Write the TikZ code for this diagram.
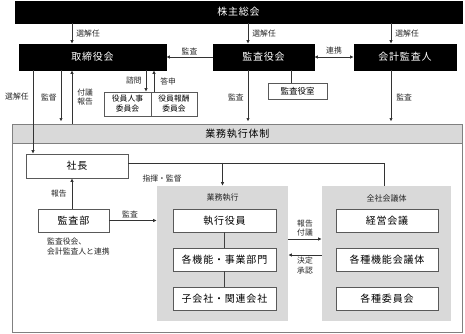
\documentclass[tikz,border=0pt]{standalone}
\usepackage{fontspec}
\setmainfont{Noto Sans CJK JP}
\newfontfamily\jpsp{Noto Sans CJK JP}[LetterSpace=8.0]
\usetikzlibrary{arrows.meta,calc,positioning}

\begin{document}
\begin{tikzpicture}[
  x=1pt, y=-1pt,
  font=\fontsize{10}{12}\selectfont,
  line join=miter,
  >={Latex[length=3.5pt,width=3.5pt]},
  box/.style={
    rectangle, inner sep=0pt,
    align=center, line width=0.8pt
  },
  blackst/.style={box, draw=black, fill=black, text=white, font=\jpsp\fontsize{10}{12}\selectfont},
  whitest/.style={box, draw=black!65, fill=white, font=\jpsp\fontsize{10}{12}\selectfont},
  cmtst/.style={box, draw=black!65, fill=white, font=\fontsize{7.8}{10}\selectfont},
  grpst/.style={box, draw=none, fill=black!15},
  trans/.style={->, line width=0.8pt, draw=black!80},
  link/.style={line width=0.8pt, draw=black!80},
  edgelbl/.style={font=\fontsize{7.8}{9.5}\selectfont, inner sep=1pt, text=black!85, align=center}
]
\useasboundingbox (0,0) rectangle (465,333);

% =========================================================================
% Horná časť: orgány spoločnosti
% =========================================================================
\node[blackst, minimum width=447, minimum height=22] (gm) at (238.5,12) {株主総会};

\node[blackst, minimum width=147, minimum height=26] (board)   at (92.5,57) {取締役会};
\node[blackst, minimum width=101, minimum height=26] (kansa)   at (263.5,57) {監査役会};
\node[blackst, minimum width=102, minimum height=26] (auditor) at (405,57) {会計監査人};

\node[whitest, minimum width=59, minimum height=16, font=\fontsize{8.5}{10}\selectfont] (kansashitsu) at (297.5,91) {監査役室};

% výbory
\node[cmtst, minimum width=47, minimum height=24] (jinji) at (127.5,104) {役員人事\\委員会};
\node[cmtst, minimum width=46, minimum height=24] (hoshu) at (174,104)   {役員報酬\\委員会};

% =========================================================================
% Rámec: 業務執行体制
% =========================================================================
\node[box, draw=black!50, fill=white, minimum width=450, minimum height=208, anchor=north west] (frame) at (12,124) {};
\node[box, draw=black!50, fill=black!15, minimum width=450, minimum height=19, anchor=north west,
      font=\jpsp\fontsize{10}{12}\selectfont] (head) at (12,124) {業務執行体制};

\node[whitest, minimum width=102, minimum height=24] (president) at (77,166)   {社長};
\node[whitest, minimum width=71,  minimum height=23] (naibu)     at (73.5,220.5) {監査部};
\node[edgelbl, anchor=north west, align=left, inner sep=0pt] (naibunote) at (47,238) {監査役会、\\会計監査人と連携};

% skupina: 業務執行
\node[grpst, minimum width=131, minimum height=135] (exec) at (222.5,253.5) {};
\node[edgelbl, font=\fontsize{8}{10}\selectfont] (exectitle) at (222.5,198) {業務執行};
\node[whitest, minimum width=103, minimum height=23] (exec1) at (224.5,220.5) {執行役員};
\node[whitest, minimum width=103, minimum height=23] (exec2) at (224.5,259.5) {各機能・事業部門};
\node[whitest, minimum width=103, minimum height=23] (exec3) at (224.5,298.5) {子会社・関連会社};

% skupina: 全社会議体
\node[grpst, minimum width=129, minimum height=135] (council) at (386.5,253.5) {};
\node[edgelbl, font=\fontsize{8}{10}\selectfont] (counciltitle) at (386.5,198) {全社会議体};
\node[whitest, minimum width=102, minimum height=23] (council1) at (387,220.5) {経営会議};
\node[whitest, minimum width=102, minimum height=23] (council2) at (387,259.5) {各種機能会議体};
\node[whitest, minimum width=102, minimum height=23] (council3) at (387,298.5) {各種委員会};

% =========================================================================
% Prepojenia
% =========================================================================
% 株主総会 -> orgány
\draw[trans] (gm.south -| 72,0)  -- node[edgelbl, right=3pt] {選解任} (board.north -| 72,0);
\draw[trans] (gm.south -| 248,0) -- node[edgelbl, right=3pt] {選解任} (kansa.north -| 248,0);
\draw[trans] (gm.south -| 391,0) -- node[edgelbl, right=3pt] {選解任} (auditor.north -| 391,0);

% 監査役会 <-> ostatné
\draw[trans] (kansa.west) -- node[edgelbl, above=1pt] {監査} (board.east);
\draw[trans, <->] (kansa.east) -- node[edgelbl, above=1pt] {連携} (auditor.west);
\draw[link] (kansa.south -| 291,0) -- (kansashitsu.north -| 291,0);

% 取締役会 -> dole
\draw[trans] (board.south -| 33,0) -- node[edgelbl, left=3pt, pos=0.32] {選解任} (president.north -| 33,0);
\draw[trans, shorten >=2.5pt] (board.south -| 61,0) -- node[edgelbl, left=3pt] {監督} (frame.north -| 61,0);
\draw[trans] (frame.north -| 72,0) -- node[edgelbl, right=4pt] {付議\\報告} (board.south -| 72,0);
\draw[trans] (board.south -| 146,0) -- node[edgelbl, left=3pt] {諮問} (jinji.north -| 146,0);
\draw[trans] (hoshu.north -| 154,0) -- node[edgelbl, right=5pt] {答申} (board.south -| 154,0);

% audit -> rámec
\draw[trans, shorten >=2.5pt] (kansa.south -| 248,0) -- node[edgelbl, left=3pt] {監査} (frame.north -| 248,0);
\draw[trans, shorten >=2.5pt] (auditor.south -| 391,0) -- node[edgelbl, right=4pt] {監査} (frame.north -| 391,0);

% 社長 -> 業務執行 / 全社会議体
\coordinate (hq) at ($(president.north east)!0.375!(president.south east)$);
\coordinate (cmd) at (exec.north |- hq);
\draw[link] (hq) -| node[edgelbl, anchor=west, pos=0.025, yshift=-16pt] {指揮・監督} (council.north -| 384,0);
\draw[trans] (cmd) -- (exec.north);

% 監査部
\draw[trans] (naibu.north -| 72,0) -- node[edgelbl, left=4pt] {報告} (president.south -| 72,0);
\draw[trans] (naibu.east) -- node[edgelbl, above=1pt, xshift=-3pt] {監査} (naibu.east -| exec.west);

% vnútri 業務執行
\draw[link, line width=1.3pt, draw=black!75] (exec1.south) -- (exec2.north);
\draw[link, line width=1.3pt, draw=black!75] (exec2.south) -- (exec3.north);

% 業務執行 <-> 全社会議体
\draw[trans] (exec.east |- 0,239) -- node[edgelbl, above=1pt] {報告\\付議} (council.west |- 0,239);
\draw[trans] (council.west |- 0,255) -- node[edgelbl, below=1pt] {決定\\承認} (exec.east |- 0,255);

\end{tikzpicture}
\end{document}
